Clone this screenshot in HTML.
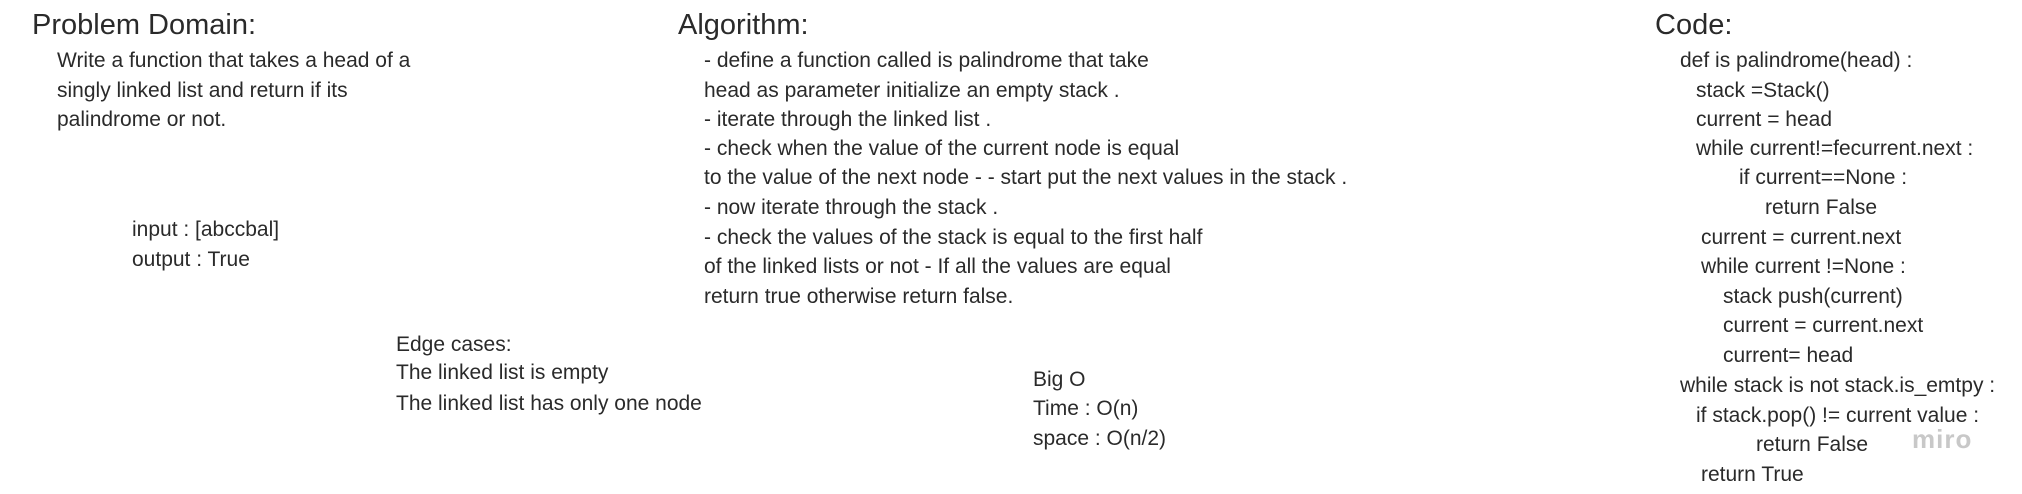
<!DOCTYPE html>
<html><head><meta charset="utf-8"><style>
body{margin:0;width:2022px;height:494px;background:#fff;position:relative;overflow:hidden;font-family:"Liberation Sans",sans-serif;color:#2a2a2a}
.t{position:absolute;font-size:21px;line-height:26px;white-space:pre;transform:translateY(-10px)}
.h{position:absolute;font-size:29px;line-height:32px;white-space:pre;transform:translateY(-14px)}
.m{position:absolute;left:1912px;top:424px;font-size:26px;font-weight:bold;color:#c8c8c8;letter-spacing:1px}
</style></head><body>
<div class="h" style="left:32px;top:23px">Problem Domain:</div>
<div class="t" style="left:57px;top:58px">Write a function that takes a head of a</div>
<div class="t" style="left:57px;top:88px">singly linked list and return if its</div>
<div class="t" style="left:57px;top:117px">palindrome or not.</div>
<div class="t" style="left:132px;top:227px">input : [abccbal]</div>
<div class="t" style="left:132px;top:257px">output : True</div>
<div class="t" style="left:396px;top:342px">Edge cases:</div>
<div class="t" style="left:396px;top:370px">The linked list is empty</div>
<div class="t" style="left:396px;top:401px">The linked list has only one node</div>

<div class="h" style="left:678px;top:23px">Algorithm:</div>
<div class="t" style="left:704px;top:58px">- define a function called is palindrome that take</div>
<div class="t" style="left:704px;top:88px">head as parameter initialize an empty stack .</div>
<div class="t" style="left:704px;top:117px">- iterate through the linked list .</div>
<div class="t" style="left:704px;top:146px">- check when the value of the current node is equal</div>
<div class="t" style="left:704px;top:175px">to the value of the next node - - start put the next values in the stack .</div>
<div class="t" style="left:704px;top:205px">- now iterate through the stack .</div>
<div class="t" style="left:704px;top:235px">- check the values of the stack is equal to the first half</div>
<div class="t" style="left:704px;top:264px">of the linked lists or not - If all the values are equal</div>
<div class="t" style="left:704px;top:294px">return true otherwise return false.</div>

<div class="t" style="left:1033px;top:377px">Big O</div>
<div class="t" style="left:1033px;top:406px">Time : O(n)</div>
<div class="t" style="left:1033px;top:436px">space : O(n/2)</div>

<div class="h" style="left:1655px;top:23px">Code:</div>
<div class="t" style="left:1680px;top:58px">def is palindrome(head) :</div>
<div class="t" style="left:1696px;top:88px">stack =Stack()</div>
<div class="t" style="left:1696px;top:117px">current = head</div>
<div class="t" style="left:1696px;top:146px">while current!=fecurrent.next :</div>
<div class="t" style="left:1739px;top:175px">if current==None :</div>
<div class="t" style="left:1765px;top:205px">return False</div>
<div class="t" style="left:1701px;top:235px">current = current.next</div>
<div class="t" style="left:1701px;top:264px">while current !=None :</div>
<div class="t" style="left:1723px;top:294px">stack push(current)</div>
<div class="t" style="left:1723px;top:323px">current = current.next</div>
<div class="t" style="left:1723px;top:353px">current= head</div>
<div class="t" style="left:1680px;top:383px">while stack is not stack.is_emtpy :</div>
<div class="t" style="left:1696px;top:413px">if stack.pop() != current value :</div>
<div class="t" style="left:1756px;top:442px">return False</div>
<div class="t" style="left:1701px;top:472px">return True</div>
<div class="m">miro</div>
</body></html>
